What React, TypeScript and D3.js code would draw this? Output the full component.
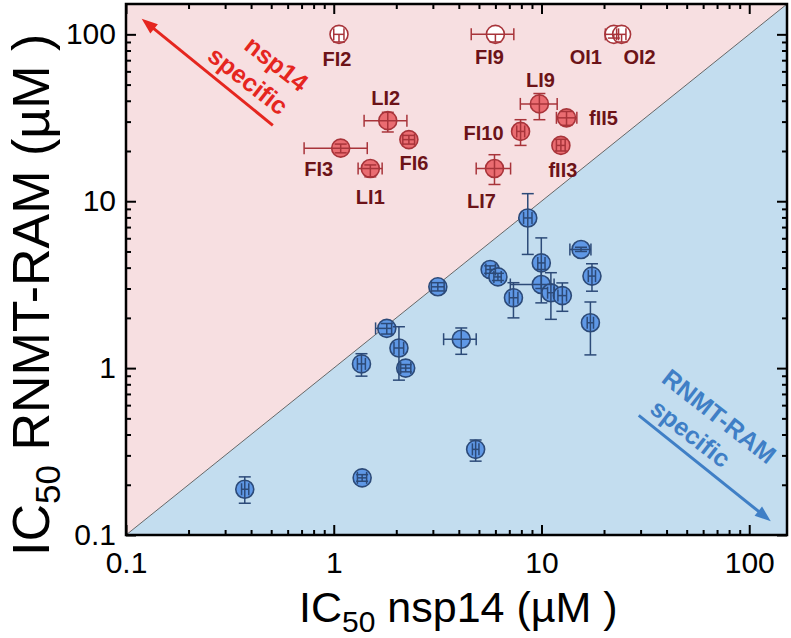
import React, { useEffect, useRef } from 'react';
import * as d3 from 'd3';

const W = 791;
const H = 638;
const margin = { top: 4, right: 4, bottom: 103, left: 126 };
const domain = [0.1, 152];

// nsp14-specific compounds (red), open markers = lower bound (> 100 uM)
const redNames = ['FI2', 'FI9', 'OI1', 'OI2', 'LI2', 'FI6', 'FI3', 'LI1', 'LI7', 'FI10', 'LI9', 'fII5', 'fII3'];
const redX = [1.06, 6.0, 22.3, 24.3, 1.82, 2.3, 1.08, 1.5, 5.94, 7.93, 9.77, 13.2, 12.4];
const redXLo = [1.0, 4.59, 20.3, 23.0, 1.4, 2.15, 0.72, 1.31, 4.85, 7.6, 7.91, 11.8, 11.8];
const redXHi = [1.12, 7.36, 23.5, 25.5, 2.25, 2.45, 1.45, 1.71, 7.1, 8.3, 11.9, 14.8, 13.0];
const redY = [100, 100, 100, 100, 30.4, 23.4, 20.8, 15.7, 15.7, 26.2, 38.3, 31.6, 21.6];
const redYLo = [90, 90, 95, 90, 26.0, 22.0, 19.5, 14.0, 12.6, 21.6, 30.8, 28.5, 20.0];
const redYHi = [100, 100, 100, 100, 34.1, 24.8, 22.0, 16.5, 19.0, 30.8, 44.2, 34.5, 23.5];
const redOpen = [true, true, true, true, false, false, false, false, false, false, false, false, false];

// RNMT-RAM-specific compounds (blue)
const blueX = [8.59, 15.5, 9.98, 5.66, 6.17, 17.5, 9.98, 11.1, 12.6, 7.33, 17.2, 3.17, 1.8, 4.11, 2.06, 2.22, 1.36, 4.82, 1.37, 0.373];
const blueXLo = [8.2, 13.7, 9.6, 5.4, 5.9, 16.8, 7.08, 10.7, 12.0, 7.0, 16.6, 2.95, 1.59, 3.38, 1.95, 2.1, 1.3, 4.65, 1.3, 0.36];
const blueXHi = [9.0, 17.3, 10.4, 6.0, 6.4, 18.2, 11.5, 11.5, 13.2, 7.7, 17.8, 3.4, 1.9, 4.85, 2.17, 2.35, 1.42, 5.0, 1.44, 0.39];
const blueY = [7.94, 5.14, 4.27, 3.9, 3.52, 3.56, 3.17, 2.83, 2.72, 2.64, 1.87, 3.07, 1.73, 1.49, 1.32, 1.0, 1.06, 0.326, 0.22, 0.188];
const blueYLo = [4.8, 5.0, 3.0, 3.7, 3.35, 2.89, 2.46, 1.96, 2.19, 2.0, 1.2, 2.9, 1.6, 1.21, 0.847, 0.95, 0.895, 0.277, 0.21, 0.155];
const blueYHi = [11.1, 5.3, 6.03, 4.1, 3.7, 4.22, 3.9, 3.73, 3.24, 3.25, 2.49, 3.25, 1.85, 1.74, 1.77, 1.05, 1.22, 0.371, 0.23, 0.223];

// label offsets from marker centre, px
const labelOffset = {
  FI2: [-2, 24], FI9: [-6, 22], OI1: [-28, 22], OI2: [18, 22], LI2: [-2, -23], FI6: [5, 23],
  FI3: [-22, 21], LI1: [0, 28], LI7: [-13, 32], FI10: [-37, 1], LI9: [1, -24], fII5: [37, 0], fII3: [2, 24],
};

const pinkBg = '#f7dfe1';
const blueBg = '#c3ddef';
const redFill = '#ea6c71';
const redLine = '#a8343a';
const blueFill = '#5f98e6';
const blueLine = '#2c4a78';
const labelColor = '#6c1318';
const redArrow = '#e5261f';
const blueArrow = '#3f7fc6';

const App = () => {
  const ref = useRef<SVGSVGElement>(null);

  useEffect(() => {
    const svg = d3.select(ref.current);
    svg.selectAll('*').remove();

    const x = d3.scaleLog().domain(domain).range([margin.left, W - margin.right]);
    const y = d3.scaleLog().domain(domain).range([H - margin.bottom, margin.top]);
    const [x0, x1] = x.range();
    const [y0, y1] = y.range();

    // specificity regions
    svg.append('polygon').attr('points', `${x0},${y0} ${x0},${y1} ${x1},${y1}`).attr('fill', pinkBg);
    svg.append('polygon').attr('points', `${x0},${y0} ${x1},${y0} ${x1},${y1}`).attr('fill', blueBg);
    svg.append('line')
      .attr('x1', x(domain[0])).attr('y1', y(domain[0]))
      .attr('x2', x(domain[1])).attr('y2', y(domain[1]))
      .attr('stroke', '#666').attr('stroke-width', 1);

    const cap = 6;
    const drawSeries = (xs, xlo, xhi, ys, ylo, yhi, fill, line, open?) => {
      const g = svg.append('g');
      xs.forEach((v, i) => {
        g.append('circle')
          .attr('cx', x(v)).attr('cy', y(ys[i])).attr('r', 9)
          .attr('fill', open && open[i] ? '#fff' : fill)
          .attr('stroke', line).attr('stroke-width', 1.6);
      });
      xs.forEach((v, i) => {
        const cx = x(v);
        const cy = y(ys[i]);
        const eb = g.append('g').attr('stroke', line).attr('stroke-width', 1.5).attr('fill', 'none');
        const yl = y(ylo[i]);
        const yh = y(yhi[i]);
        if (Math.abs(yl - yh) > 0.5) {
          eb.append('line').attr('x1', cx).attr('x2', cx).attr('y1', yl).attr('y2', yh);
          if (Math.abs(yl - cy) > 0.5) eb.append('line').attr('x1', cx - cap).attr('x2', cx + cap).attr('y1', yl).attr('y2', yl);
          if (Math.abs(yh - cy) > 0.5) eb.append('line').attr('x1', cx - cap).attr('x2', cx + cap).attr('y1', yh).attr('y2', yh);
        }
        const xl = x(xlo[i]);
        const xh = x(xhi[i]);
        if (Math.abs(xl - xh) > 0.5) {
          eb.append('line').attr('x1', xl).attr('x2', xh).attr('y1', cy).attr('y2', cy);
          eb.append('line').attr('x1', xl).attr('x2', xl).attr('y1', cy - cap).attr('y2', cy + cap);
          eb.append('line').attr('x1', xh).attr('x2', xh).attr('y1', cy - cap).attr('y2', cy + cap);
        }
      });
    };

    drawSeries(blueX, blueXLo, blueXHi, blueY, blueYLo, blueYHi, blueFill, blueLine);
    drawSeries(redX, redXLo, redXHi, redY, redYLo, redYHi, redFill, redLine, redOpen);

    // compound labels
    svg.append('g')
      .selectAll('text')
      .data(redNames)
      .join('text')
      .attr('x', (d, i) => x(redX[i]) + labelOffset[d][0])
      .attr('y', (d, i) => y(redY[i]) + labelOffset[d][1])
      .attr('dy', '0.36em')
      .attr('text-anchor', 'middle')
      .attr('font-size', 20)
      .attr('font-weight', 'bold')
      .attr('fill', labelColor)
      .text(d => d);

    // specificity arrows
    const arrow = (from, to, color) => {
      const ax = x(from[0]);
      const ay = y(from[1]);
      const bx = x(to[0]);
      const by = y(to[1]);
      const ang = Math.atan2(by - ay, bx - ax);
      const hl = 16;
      const hw = 6;
      const baseX = bx - hl * Math.cos(ang);
      const baseY = by - hl * Math.sin(ang);
      svg.append('line')
        .attr('x1', ax).attr('y1', ay).attr('x2', baseX + 2 * Math.cos(ang)).attr('y2', baseY + 2 * Math.sin(ang))
        .attr('stroke', color).attr('stroke-width', 3);
      svg.append('polygon')
        .attr('points', [
          [bx, by],
          [baseX - hw * Math.sin(ang), baseY + hw * Math.cos(ang)],
          [baseX + hw * Math.sin(ang), baseY - hw * Math.cos(ang)],
        ].map(p => p.join(',')).join(' '))
        .attr('fill', color);
    };
    arrow([0.509, 28.5], [0.119, 124], redArrow);
    arrow([29.4, 0.521], [127, 0.121], blueArrow);

    const rotText = (lines, at, color) => {
      const g = svg.append('g')
        .attr('transform', `translate(${x(at[0])},${y(at[1])}) rotate(38)`);
      lines.forEach((t, i) => {
        g.append('text')
          .attr('x', i === 0 ? 0 : -12)
          .attr('y', i * 31)
          .attr('dy', '0.36em')
          .attr('text-anchor', 'middle')
          .attr('font-size', 25)
          .attr('font-weight', 'bold')
          .attr('fill', color)
          .text(t);
      });
    };
    rotText(['nsp14', 'specific'], [0.532, 67], redArrow);
    rotText(['RNMT-RAM', 'specific'], [71.8, 0.516], blueArrow);

    // axes, ticks inward on all four sides
    const all = x.ticks();
    const isMajor = v => Math.abs(Math.log10(v) - Math.round(Math.log10(v))) < 1e-9;
    const major = all.filter(isMajor);
    const minor = all.filter(v => !isMajor(v));
    const fmt = d3.format('~g');

    const addAxis = (axis, tr, labelled) => {
      [[minor, 5], [major, 10]].forEach(([vals, len]) => {
        const g = svg.append('g')
          .attr('transform', tr)
          .call(axis.tickValues(vals).tickSize(-len).tickSizeOuter(0)
            .tickFormat(labelled && len === 10 ? fmt : () => ''));
        g.select('.domain').remove();
        g.selectAll('line').attr('stroke', '#000').attr('stroke-width', 2);
        g.selectAll('text')
          .attr('font-size', 30)
          .attr('font-family', 'Liberation Sans, Arial, sans-serif')
          .attr('fill', '#000');
      });
    };
    addAxis(d3.axisBottom(x).tickPadding(17), `translate(0,${y0})`, true);
    addAxis(d3.axisTop(x), `translate(0,${y1})`, false);
    addAxis(d3.axisLeft(y).tickPadding(10), `translate(${x0},0)`, true);
    addAxis(d3.axisRight(y), `translate(${x1},0)`, false);

    svg.append('rect')
      .attr('x', x0).attr('y', y1).attr('width', x1 - x0).attr('height', y0 - y1)
      .attr('fill', 'none').attr('stroke', '#000').attr('stroke-width', 2.5);

    // axis titles
    const xt = svg.append('text')
      .attr('x', 299).attr('y', 622)
      .attr('font-size', 43).attr('fill', '#000');
    xt.append('tspan').text('IC');
    xt.append('tspan').attr('font-size', 30).attr('dy', 10).text('50');
    xt.append('tspan').attr('dy', -10).text(' nsp14 (\u00b5M )');

    const yt = svg.append('text')
      .attr('transform', 'translate(49,556) rotate(-90)')
      .attr('font-size', 52).attr('fill', '#000');
    yt.append('tspan').text('IC');
    yt.append('tspan').attr('font-size', 35).attr('dy', 11).text('50');
    yt.append('tspan').attr('dy', -11).text(' RNMT-RAM (\u00b5M )');
  }, []);

  return (
    <svg
      ref={ref}
      width={W}
      height={H}
      style={{ position: 'absolute', left: 0, top: 0, fontFamily: 'Liberation Sans, Arial, sans-serif', background: '#fff' }}
    />
  );
};

export default App;
